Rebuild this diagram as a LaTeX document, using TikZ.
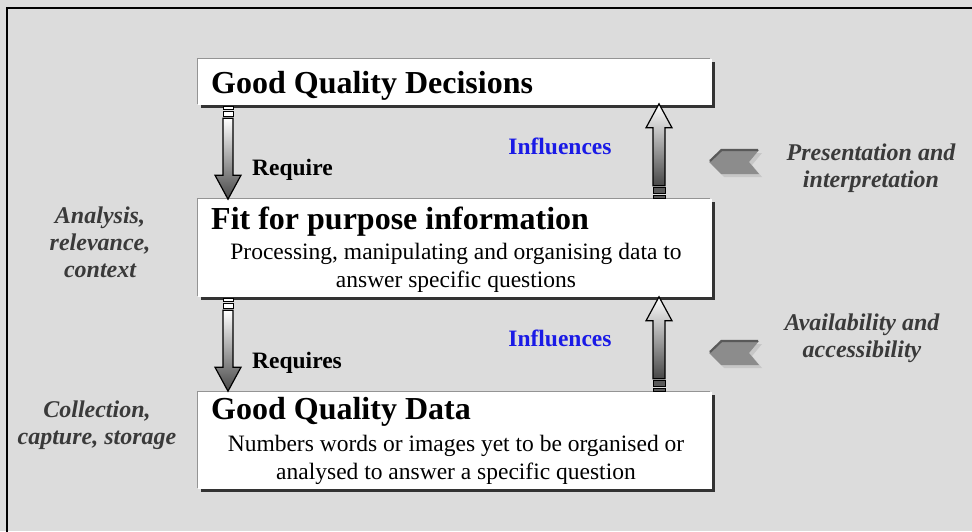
\documentclass[tikz,border=0pt]{standalone}
\usepackage{fontspec}
\setmainfont{Liberation Serif}
\usetikzlibrary{calc}
\definecolor{bg}{HTML}{DCDCDC}
\definecolor{lbl}{HTML}{3A3A3A}
\definecolor{infl}{HTML}{1A1AE6}
\tikzset{
  boxnode/.style={draw=none, fill=white, inner sep=0pt},
  titletext/.style={anchor=west, inner sep=0pt, font=\fontsize{32}{36}\selectfont\bfseries},
  bodytext/.style={align=center, inner sep=0pt, font=\fontsize{23.5}{28}\selectfont},
  sidelabel/.style={align=center, inner sep=0pt, text=lbl, font=\fontsize{24}{27}\selectfont\bfseries\itshape},
  arrowlabel/.style={anchor=west, inner sep=0pt, font=\fontsize{23.5}{26}\selectfont\bfseries},
  infllabel/.style={inner sep=0pt, text=infl, font=\fontsize{23.5}{26}\selectfont\bfseries},
  dnarrow/.pic={
    \filldraw[fill=white, line width=0.9pt] (-5,1) rectangle (5,4.5);
    \filldraw[fill=white, line width=0.9pt] (-5,6.5) rectangle (5,11);
    \shade[top color=white, bottom color=black!72, draw=black, line width=1.2pt]
      (-5,13) -- (5,13) -- (5,70) -- (13,70) -- (0,94) -- (-13,70) -- (-5,70) -- cycle;
  },
  uparrow/.pic={
    \shade[top color=white, bottom color=black!72, draw=black, line width=1.2pt]
      (0,-95) -- (13,-71) -- (6,-71) -- (6,-13) -- (-6,-13) -- (-6,-71) -- (-13,-71) -- cycle;
    \filldraw[fill=black!65, line width=0.9pt] (-6,-11) rectangle (6,-5.5);
    \filldraw[fill=black!65, line width=0.9pt] (-6,-3.5) rectangle (6,0);
  },
  chevron/.pic={
    \fill[black!22] (3,3) -- (15,-9) -- (53,-9) -- (43,3) -- (53,15) -- (15,15) -- cycle;
    \fill[black!45] (0,0) -- (12,-12) -- (50,-12) -- (40,0) -- (50,12) -- (12,12) -- cycle;
    \draw[black!65, line width=2.2pt] (1,-1) -- (12.5,-12) -- (49,-12);
  }
}
\newcommand\shadowbox[4]{% x1 y1 x2 y2
  \fill[black!42] (#1-1.5,#2-1.5) rectangle (#3-2,#4-1);
  \fill[black!80] (#1+3,#2+3) rectangle (#3+2.5,#4+2.5);
  \fill[white] (#1,#2) rectangle (#3,#4);
}
\begin{document}
\begin{tikzpicture}[x=1pt,y=-1pt]
\useasboundingbox (0,0) rectangle (972,531);
\fill[bg] (0,0) rectangle (972,531);
\draw[line width=2pt] (7,540) -- (7,8) -- (985,8);

% boxes
\shadowbox{198}{59}{712}{105}
\shadowbox{198}{199}{712}{297}
\shadowbox{198}{392}{712}{489}
\node[boxnode, minimum width=514pt, minimum height=46pt] (dec) at (455,82) {};
\node[boxnode, minimum width=514pt, minimum height=98pt] (inf) at (455,248) {};
\node[boxnode, minimum width=514pt, minimum height=97pt] (dat) at (455,440.5) {};

% titles
\node[titletext] (t1) at (211,86) {Good Quality Decisions};
\node[titletext] (t2) at (211,222) {Fit for purpose information};
\node[titletext] (t3) at (211,412) {Good Quality Data};

% body texts
\node[bodytext] (b2) at (456,268) {Processing, manipulating and organising data to\\answer specific questions};
\node[bodytext] (b3) at (456,460) {Numbers words or images yet to be organised or\\analysed to answer a specific question};

% arrows
\coordinate (dx) at (228,0);
\coordinate (ux) at (659,0);
\pic at (dec.south -| dx) {dnarrow};
\pic at (inf.south -| dx) {dnarrow};
\pic at (inf.north -| ux) {uparrow};
\pic at (dat.north -| ux) {uparrow};

% arrow labels
\node[arrowlabel] (r1) at (252,170) {Require};
\node[arrowlabel] (r2) at (252,363) {Requires};
\node[infllabel] (i1) at (560,146) {Influences};
\node[infllabel] (i2) at (560,338) {Influences};

% chevrons
\pic at (709,162) {chevron};
\pic at (709,353) {chevron};

% side labels
\node[sidelabel] (s1) at (871,168) {Presentation and\\interpretation};
\node[sidelabel] (s2) at (862,338) {Availability and\\accessibility};
\node[sidelabel] (s3) at (100,242) {Analysis,\\relevance,\\context};
\node[sidelabel] (s4) at (97,425) {Collection,\\capture, storage};
\end{tikzpicture}
\end{document}
